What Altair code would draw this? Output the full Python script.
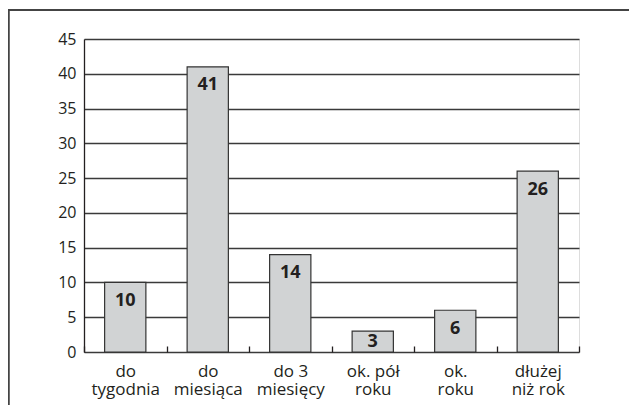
import altair as alt
import pandas as pd

categories = ["do\ntygodnia", "do\nmiesiąca", "do 3\nmiesięcy", "ok. pół\nroku", "ok.\nroku", "dłużej\nniż rok"]
values = [10, 41, 14, 3, 6, 26]
y_ticks = [0, 5, 10, 15, 20, 25, 30, 35, 40, 45]

df = pd.DataFrame({"cat": categories, "val": values})

FONT = "Open Sans"
INK = "#231f20"

x_enc = alt.X(
    "cat:N",
    sort=None,
    title=None,
    scale=alt.Scale(paddingInner=0, paddingOuter=0),
    axis=alt.Axis(
        labelAngle=0,
        labelExpr="split(datum.label, '\\n')",
        labelFont=FONT,
        labelFontSize=17,
        labelLineHeight=18.5,
        labelColor=INK,
        labelPadding=11,
        labelOverlap=False,
        domain=False,
        ticks=True,
        tickBand="extent",
        tickSize=6,
        tickColor=INK,
        tickWidth=1.3,
        offset=-6,
        grid=False,
    ),
)
y_enc = alt.Y(
    "val:Q",
    title=None,
    scale=alt.Scale(domain=[0, 45], nice=False, zero=True),
    axis=alt.Axis(
        values=y_ticks,
        labelFont=FONT,
        labelFontSize=16,
        labelColor=INK,
        labelPadding=8,
        labelOverlap=False,
        ticks=False,
        domain=True,
        domainColor=INK,
        domainWidth=1.3,
        grid=True,
        gridColor="#3a3a3a",
        gridWidth=1.3,
        gridOpacity=1,
    ),
)

base = alt.Chart(df)

bars = base.mark_bar(
    fill="#d1d3d4", stroke="#333333", strokeWidth=1.2,
    width=alt.RelativeBandSize(0.5),
).encode(x=x_enc, y=y_enc)

labels = base.transform_calculate(
    label_y="max(datum.val - 3.4, 0.72)"
).mark_text(
    font=FONT, fontSize=18, fontWeight="bold", color=INK,
    baseline="alphabetic"
).encode(
    x=alt.X("cat:N", sort=None, axis=None),
    y=alt.Y("label_y:Q", axis=None),
    text="val:Q",
)

frame_top = base.mark_rule(color="#444444", strokeWidth=1.4, clip=False).encode(
    x=alt.value(-76), x2=alt.value(560), y=alt.value(-29)
)
frame_left = base.mark_rule(color="#444444", strokeWidth=1.4, clip=False).encode(
    x=alt.value(-75.5), y=alt.value(-29), y2=alt.value(400)
)

chart = alt.layer(bars, labels, frame_top, frame_left).resolve_axis(
    x="independent", y="independent"
).properties(
    width=495,
    height=313,
    autosize=alt.AutoSizeParams(type="none"),
    padding={"left": 76, "top": 31, "right": 50, "bottom": 58},
).configure_view(stroke=None).configure(background="white")

chart.save("out.html", embed_options={"renderer": "svg", "actions": False})
